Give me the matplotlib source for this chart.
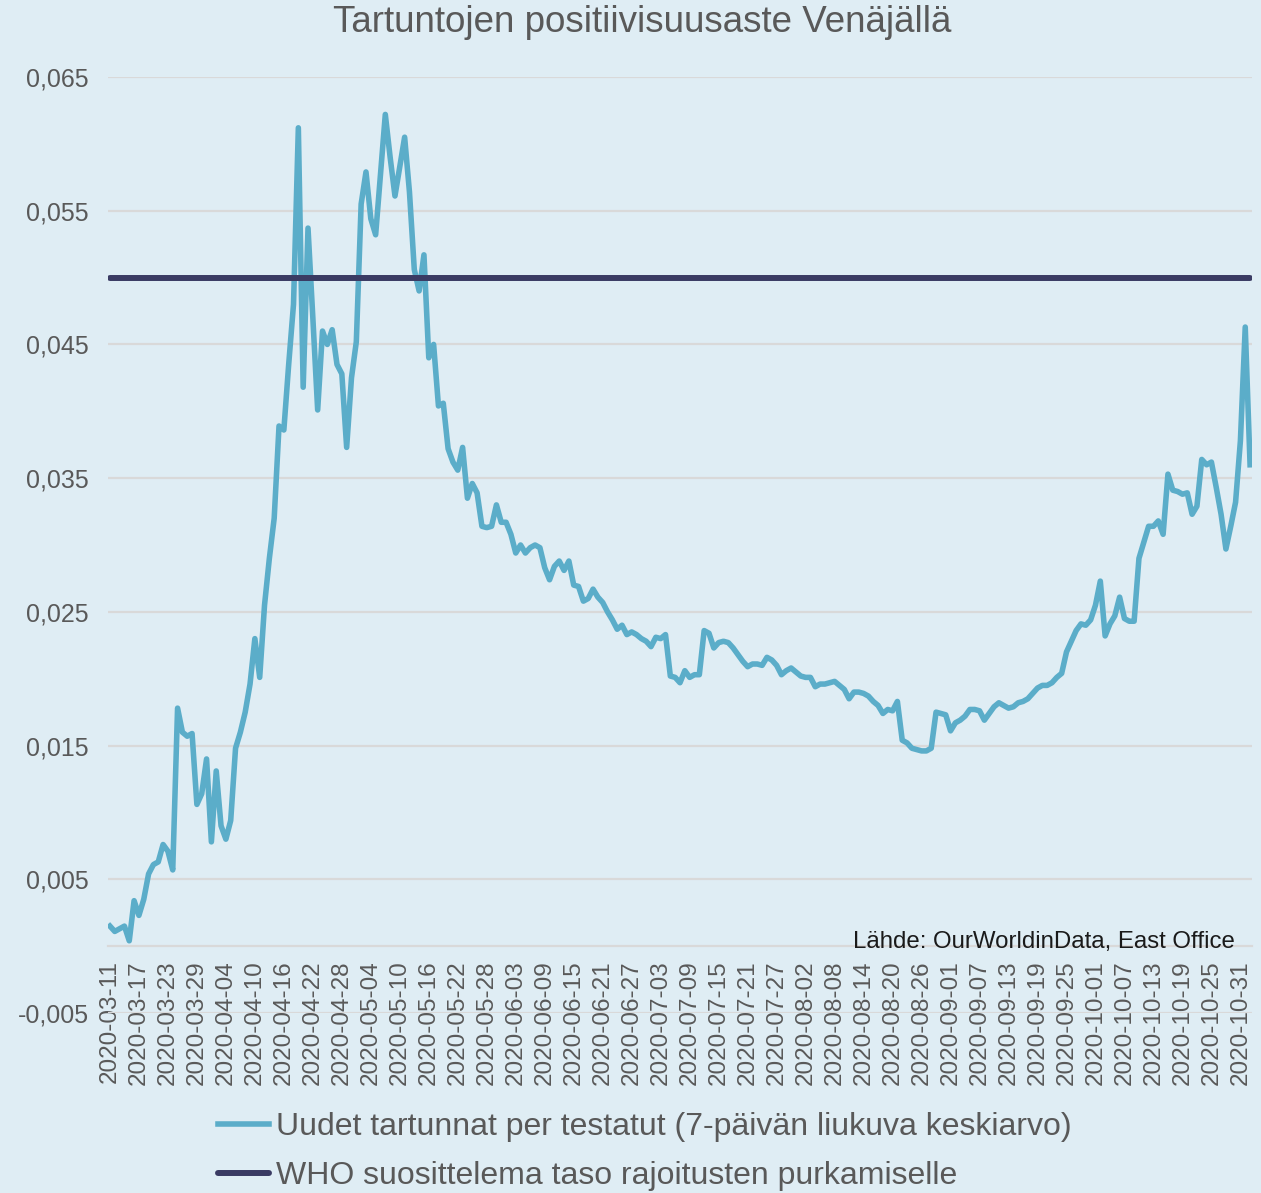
import numpy as np
import pandas as pd
import matplotlib
matplotlib.use("Agg")
import matplotlib.pyplot as plt

plt.rcParams["font.family"] = ["Liberation Sans", "DejaVu Sans"]

# 7-day positivity rate, Russia, daily from 2020-03-11
positivity = [
    0.0015, 0.0011, 0.0013, 0.0015, 0.0004, 0.0034, 0.0023, 0.0035, 0.0054, 0.0061,
    0.0063, 0.0076, 0.0071, 0.0057, 0.0178, 0.0160, 0.0157, 0.0159, 0.0106, 0.0114,
    0.0140, 0.0078, 0.0131, 0.0090, 0.0080, 0.0094, 0.0148, 0.0160, 0.0175, 0.0196,
    0.0230, 0.0201, 0.0255, 0.0290, 0.0320, 0.0389, 0.0386, 0.0435, 0.0480, 0.0612,
    0.0418, 0.0537, 0.0470, 0.0401, 0.0460, 0.0450, 0.0461, 0.0435, 0.0428, 0.0373,
    0.0425, 0.0452, 0.0555, 0.0579, 0.0544, 0.0532, 0.0577, 0.0622, 0.0590, 0.0561,
    0.0583, 0.0605, 0.0564, 0.0506, 0.0490, 0.0517, 0.0440, 0.0450, 0.0404, 0.0406,
    0.0372, 0.0362, 0.0356, 0.0373, 0.0335, 0.0346, 0.0339, 0.0314, 0.0313, 0.0314,
    0.0330, 0.0317, 0.0317, 0.0308, 0.0294, 0.0300, 0.0294, 0.0298, 0.0300, 0.0298,
    0.0283, 0.0274, 0.0284, 0.0288, 0.0281, 0.0288, 0.0270, 0.0269, 0.0258, 0.0260,
    0.0267, 0.0261, 0.0257, 0.0250, 0.0244, 0.0237, 0.0240, 0.0233, 0.0235, 0.0233,
    0.0230, 0.0228, 0.0224, 0.0231, 0.0230, 0.0233, 0.0202, 0.0201, 0.0197, 0.0206,
    0.0201, 0.0203, 0.0203, 0.0236, 0.0234, 0.0223, 0.0227, 0.0228, 0.0227, 0.0223,
    0.0218, 0.0213, 0.0209, 0.0211, 0.0211, 0.0210, 0.0216, 0.0214, 0.0210, 0.0203,
    0.0206, 0.0208, 0.0205, 0.0202, 0.0201, 0.0201, 0.0194, 0.0196, 0.0196, 0.0197,
    0.0198, 0.0195, 0.0192, 0.0185, 0.0190, 0.0190, 0.0189, 0.0187, 0.0183, 0.0180,
    0.0174, 0.0177, 0.0176, 0.0183, 0.0154, 0.0152, 0.0148, 0.0147, 0.0146, 0.0146,
    0.0148, 0.0175, 0.0174, 0.0173, 0.0161, 0.0167, 0.0169, 0.0172, 0.0177, 0.0177,
    0.0176, 0.0169, 0.0174, 0.0179, 0.0182, 0.0180, 0.0178, 0.0179, 0.0182, 0.0183,
    0.0185, 0.0189, 0.0193, 0.0195, 0.0195, 0.0197, 0.0201, 0.0204, 0.0220, 0.0228,
    0.0236, 0.0241, 0.0240, 0.0244, 0.0255, 0.0273, 0.0232, 0.0241, 0.0247, 0.0261,
    0.0245, 0.0243, 0.0243, 0.0290, 0.0302, 0.0314, 0.0314, 0.0318, 0.0308, 0.0353,
    0.0341, 0.0340, 0.0338, 0.0339, 0.0323, 0.0329, 0.0364, 0.0360, 0.0362, 0.0343,
    0.0323, 0.0297, 0.0314, 0.0332, 0.0378, 0.0463, 0.0360,
]
who_level = 0.05
start_date = "2020-03-11"
yticks = [-0.005, 0.005, 0.015, 0.025, 0.035, 0.045, 0.055, 0.065]

title = "Tartuntojen positiivisuusaste Venäjällä"
label_pos = "Uudet tartunnat per testatut (7-päivän liukuva keskiarvo)"
label_who = "WHO suosittelema taso rajoitusten purkamiselle"
source = "Lähde: OurWorldinData, East Office"

dates = pd.date_range(start_date, periods=len(positivity)).strftime("%Y-%m-%d")
x = np.arange(len(positivity))

bg = "#DFEDF4"
txt = "#595959"

fig = plt.figure(figsize=(12.61, 11.93), dpi=100, facecolor=bg)
ax = fig.add_axes([108/1261, 1-1013/1193, (1252-108)/1261, (1013-77)/1193])
ax.set_facecolor(bg)

l1, = ax.plot(x, positivity, color="#5BADC9", lw=4.0, solid_joinstyle="round", zorder=3)
l2, = ax.plot(x, [who_level]*len(x), color="#3A3B63", lw=4.3, solid_capstyle="round", zorder=4)

# x axis crosses at 0, like the Excel original
ax.spines["bottom"].set_position(("data", 0))
ax.spines["bottom"].set_color("#D9D9D9")
ax.spines["bottom"].set_linewidth(1.6)
for s in ["left", "right", "top"]:
    ax.spines[s].set_visible(False)

ax.set_xlim(-0.4, len(x) - 0.6)
ax.set_ylim(-0.005, 0.065)
ax.set_yticks(yticks)
ax.set_yticklabels([("%.3f" % v).replace(".", ",") for v in yticks])
ax.yaxis.grid(True, color="#D9D9D9", lw=1.6)
ax.set_axisbelow(True)

ax.set_xticks(x[::6])
ax.set_xticklabels(dates[::6])
ax.tick_params(axis="x", length=0, pad=10, labelsize=17.5, labelcolor=txt, labelrotation=90)
ax.tick_params(axis="y", length=0, pad=14, labelsize=18, labelcolor=txt)

fig.text(642/1261, 1-23/1193, title, ha="center", va="center", fontsize=26.5, color=txt)
fig.text(1235/1261, 1-948/1193, source, ha="right", va="baseline", fontsize=17.3, color="#1a1a1a")

fig.legend([l1, l2], [label_pos, label_who], loc="upper left",
           bbox_to_anchor=(218/1261, 1-1112/1193), frameon=False,
           fontsize=23, handlelength=1.6, handletextpad=0.2,
           labelspacing=0.6, borderpad=0, borderaxespad=0, labelcolor=txt)

fig.savefig("out.png", dpi=100, facecolor=bg)
